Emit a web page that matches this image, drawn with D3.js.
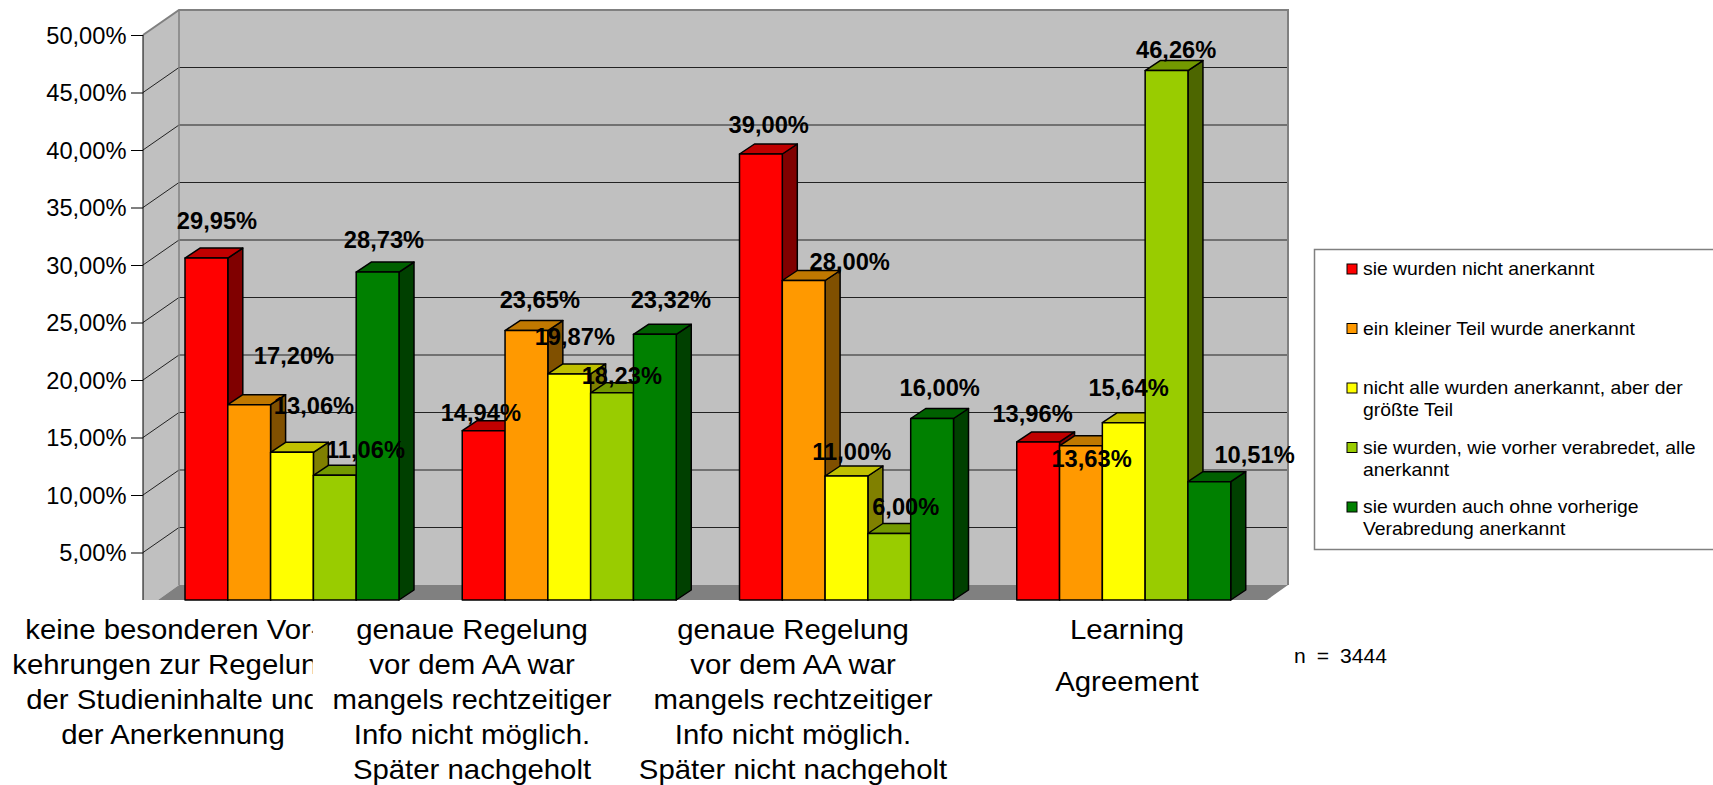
<!DOCTYPE html>
<html>
<head>
<meta charset="utf-8">
<script src="https://cdn.jsdelivr.net/npm/d3@7"></script>
<style>
  html, body { margin:0; padding:0; background:#fff; overflow:hidden; }
  text { font-family:"Liberation Sans", Arial, sans-serif; fill:#000; }
</style>
</head>
<body>
<div id="chart"></div>
<script>
const categories = [
  ["keine besonderen Vor-","kehrungen zur Regelung","der Studieninhalte und","der Anerkennung"],
  ["genaue Regelung","vor dem AA war","mangels rechtzeitiger","Info nicht möglich.","Später nachgeholt"],
  ["genaue Regelung","vor dem AA war","mangels rechtzeitiger","Info nicht möglich.","Später nicht nachgeholt"],
  ["Learning","","Agreement"]
]
const seriesNames = [
  ["sie wurden nicht anerkannt"],
  ["ein kleiner Teil wurde anerkannt"],
  ["nicht alle wurden anerkannt, aber der","größte Teil"],
  ["sie wurden, wie vorher verabredet, alle","anerkannt"],
  ["sie wurden auch ohne vorherige","Verabredung anerkannt"]
]
const red = [29.95, 14.94, 39.00, 13.96]
const orange = [17.20, 23.65, 28.00, 13.63]
const yellow = [13.06, 19.87, 11.00, 15.64]
const lime = [11.06, 18.23, 6.00, 46.26]
const green = [28.73, 23.32, 16.00, 10.51]
const yTicks = [5, 10, 15, 20, 25, 30, 35, 40, 45, 50]
const sampleSize = "n = 3444"

const seriesValues = [red, orange, yellow, lime, green]
const fronts = ["#ff0000", "#ff9900", "#ffff00", "#99cc00", "#008000"]
const tops = ["#c00000", "#c07800", "#c0c000", "#739900", "#006000"]
const sides = ["#800000", "#805000", "#808000", "#4d6600", "#004000"]

// hand placed value labels, [dx, dy] from the bar centre at y(value)
const labelNudge = [
  [[10.6,-37],[-2.8,-17],[7.8,-29],[-5.6,-27.3]],
  [[44.8,-48.7],[13.4,-30.5],[46,-18],[10.6,14]],
  [[22,-46.3],[5.6,-36],[5.2,-24],[4.8,-34.5]],
  [[30.7,-25.3],[9.8,-16.5],[16.4,-26],[9.6,-20.5]],
  [[6.4,-32],[16,-34.3],[7.6,-30],[45.2,-26.5]]
]
const categoryCenters = [173, 472, 793, 1127]

const width = 1713, height = 785
const left = 143, right = 1252, floorY = 600
const depth = {x:36, y:25}
const barDepth = {x:15, y:10}
const barLift = 7.5
const stretch = 1.03

const x0 = d3.scaleBand().domain(d3.range(4)).range([left, right])
const x1 = d3.scaleBand().domain(d3.range(5)).range([42, 256])
const y = d3.scaleLinear().domain([0, 50]).range([610, 35])
const pct = d3.formatLocale({decimal:",", thousands:".", grouping:[3], currency:["","%"]}).format(".2f")

const svg = d3.select("#chart").append("svg")
  .attr("width", width)
  .attr("height", height)
  .style("display", "block")

const pts = a => a.map(p => p.join(",")).join(" ")

// walls and floor
svg.append("polygon")
  .attr("points", pts([[left+depth.x, y(50)-depth.y], [right+depth.x, y(50)-depth.y], [right+depth.x, floorY-15], [left+depth.x, floorY-15]]))
  .style("fill", "#c0c0c0")
svg.append("polygon")
  .attr("points", pts([[left, y(50)], [left+depth.x, y(50)-depth.y], [left+depth.x, floorY-15], [left+15, floorY], [left, floorY]]))
  .style("fill", "#c0c0c0")
svg.append("polygon")
  .attr("points", pts([[left+15, floorY], [left+depth.x, floorY-15], [right+depth.x, floorY-15], [right+15, floorY]]))
  .style("fill", "#808080")

svg.selectAll(null)
  .data(yTicks.filter(d => d < 50))
  .enter()
  .append("polyline")
  .attr("points", d => pts([[left, y(d)], [left+depth.x, y(d)-depth.y], [right+depth.x, y(d)-depth.y]]))
  .style("fill", "none")
  .style("stroke", "#222")
  .style("stroke-width", 1)

svg.append("polyline")
  .attr("points", pts([[left, y(50)], [left+depth.x, y(50)-depth.y], [right+depth.x, y(50)-depth.y], [right+depth.x, floorY-15]]))
  .style("fill", "none")
  .style("stroke", "#808080")
  .style("stroke-width", 2)
svg.append("line")
  .attr("x1", left+depth.x).attr("x2", left+depth.x)
  .attr("y1", y(50)-depth.y).attr("y2", floorY-15)
  .style("stroke", "#808080")
  .style("stroke-width", 1.5)

// y axis
const axis = svg.append("g")
  .attr("transform", "translate(" + left + ",0)")
  .call(d3.axisLeft(y).tickValues(yTicks).tickSize(12).tickFormat(d => pct(d) + "%"))
axis.select(".domain").remove()
axis.selectAll(".tick line").style("stroke", "#000").style("stroke-width", 1)
axis.selectAll(".tick text")
  .attr("x", 0).attr("dy", null)
  .attr("transform", "translate(-16.5,8) scale(" + stretch + ",1)")
  .style("font-size", "23px")
  .style("font-family", '"Liberation Sans", Arial, sans-serif')
svg.append("line")
  .attr("x1", left).attr("x2", left)
  .attr("y1", y(50)).attr("y2", floorY)
  .style("stroke", "#000")
  .style("stroke-width", 1)

// bars
seriesValues.forEach(function(values, s){
  const g = svg.append("g")
  const xa = (d, i) => x0(i) + x1(s)
  const w = x1.bandwidth()
  const yb = d => y(d) - barLift
  const sel = g.selectAll(null).data(values).enter().append("g")
    .style("stroke", "#000")
    .style("stroke-width", 1.5)
    .style("stroke-linejoin", "round")
  sel.append("polygon")
    .attr("points", (d,i) => pts([[xa(d,i)+w, yb(d)], [xa(d,i)+w+barDepth.x, yb(d)-barDepth.y], [xa(d,i)+w+barDepth.x, floorY-barDepth.y], [xa(d,i)+w, floorY]]))
    .style("fill", sides[s])
  sel.append("polygon")
    .attr("points", (d,i) => pts([[xa(d,i), yb(d)], [xa(d,i)+barDepth.x, yb(d)-barDepth.y], [xa(d,i)+w+barDepth.x, yb(d)-barDepth.y], [xa(d,i)+w, yb(d)]]))
    .style("fill", tops[s])
  sel.append("rect")
    .attr("x", xa)
    .attr("y", yb)
    .attr("width", w)
    .attr("height", d => floorY - yb(d))
    .style("fill", fronts[s])
})

// value labels go over every bar
seriesValues.forEach(function(values, s){
  svg.selectAll(null)
    .data(values)
    .enter()
    .append("text")
    .attr("transform", (d,i) => "translate(" + (x0(i)+x1(s)+x1.bandwidth()/2+labelNudge[s][i][0]) + "," + (y(d)+labelNudge[s][i][1]) + ") scale(" + stretch + ",1)")
    .attr("text-anchor", "middle")
    .style("font-size", "23px")
    .style("font-weight", "bold")
    .text(d => pct(d) + "%")
})

// category labels, the first one is cut off on the right like in the original
svg.append("clipPath").attr("id", "cutFirst")
  .append("rect").attr("x", 0).attr("y", 610).attr("width", 312.7).attr("height", 175)

categories.forEach(function(lines, c){
  const g = svg.append("g")
  if (c == 0) g.attr("clip-path", "url(#cutFirst)")
  g.selectAll(null)
    .data(lines)
    .enter()
    .append("text")
    .attr("transform", (d,i) => "translate(" + categoryCenters[c] + "," + (638.5 + (c == 3 ? i*26 : i*35)) + ") scale(" + stretch + ",1)")
    .attr("text-anchor", "middle")
    .style("font-size", "28.5px")
    .text(d => d)
})

// legend
svg.append("rect")
  .attr("x", 1314.5).attr("y", 249.5)
  .attr("width", 410).attr("height", 300)
  .style("fill", "#fff")
  .style("stroke", "#808080")
  .style("stroke-width", 1.5)

const legendY = d3.scalePoint().domain(d3.range(5)).range([269, 507])
const legend = svg.selectAll(null)
  .data(seriesNames)
  .enter()
  .append("g")
  .attr("transform", (d,i) => "translate(1346," + legendY(i) + ")")
legend.append("rect")
  .attr("x", 1).attr("y", -5)
  .attr("width", 10).attr("height", 10)
  .style("fill", (d,i) => fronts[i])
  .style("stroke", "#000")
  .style("stroke-width", 1)
legend.selectAll(null)
  .data(d => d)
  .enter()
  .append("text")
  .attr("transform", (d,i) => "translate(17," + (6 + i*22) + ") scale(" + stretch + ",1)")
  .style("font-size", "18.8px")
  .text(d => d)

svg.append("text")
  .attr("transform", "translate(1294,663) scale(" + stretch + ",1)")
  .style("font-size", "20.5px")
  .style("word-spacing", "5px")
  .text(sampleSize)
</script>
</body>
</html>
